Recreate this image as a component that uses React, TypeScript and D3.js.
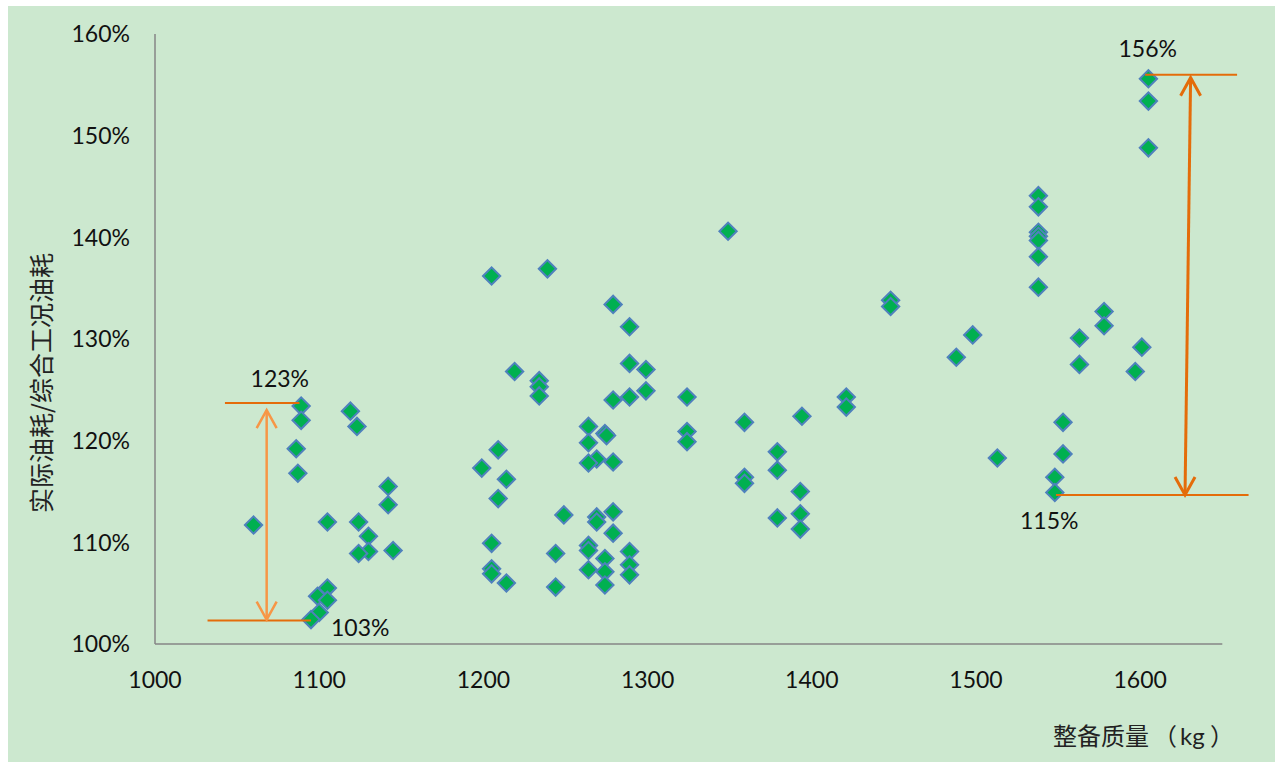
import React from "react";
import * as d3 from "d3";

// 整备质量 (kg)
const weights: number[] = [
  1060, 1089, 1089, 1086, 1087, 1119, 1123, 1142, 1142, 1105, 1124, 1130, 1130, 1124, 1145,
  1105, 1099, 1105, 1100, 1095,
  1205, 1239, 1279, 1289, 1289, 1299, 1299, 1289, 1279, 1324, 1219, 1234, 1234, 1234,
  1264, 1274, 1275, 1264, 1269, 1264, 1279, 1324, 1324, 1209, 1199, 1214, 1209, 1249,
  1269, 1269, 1279, 1279, 1205, 1244, 1264, 1264, 1274, 1289, 1289, 1289, 1264, 1274,
  1274, 1205, 1205, 1214, 1244,
  1349, 1448, 1448, 1498, 1488, 1421, 1421, 1359, 1394, 1379, 1379, 1359, 1359, 1393,
  1379, 1393, 1393, 1513, 1605, 1605, 1605, 1538, 1538, 1538, 1538, 1538, 1538, 1538,
  1578, 1578, 1563, 1563, 1601, 1597, 1553, 1553, 1548, 1548,
];
// 实际油耗/综合工况油耗 (%)
const ratios: number[] = [
  111.7, 123.4, 122.0, 119.2, 116.8, 122.9, 121.4, 115.5, 113.7, 112.0, 112.0, 110.6, 109.1, 108.9, 109.2,
  105.5, 104.7, 104.3, 103.1, 102.4,
  136.2, 136.9, 133.4, 131.2, 127.6, 127.0, 124.9, 124.3, 124.0, 124.3, 126.8, 125.9, 125.3, 124.4,
  121.4, 120.7, 120.5, 119.8, 118.2, 117.8, 117.9, 120.9, 119.9, 119.1, 117.3, 116.2, 114.3, 112.7,
  112.5, 112.0, 113.0, 110.9, 109.9, 108.9, 109.7, 109.2, 108.4, 109.1, 107.8, 106.8, 107.3, 107.1,
  105.8, 107.4, 106.9, 106.0, 105.6,
  140.6, 133.8, 133.2, 130.4, 128.2, 124.3, 123.3, 121.8, 122.4, 118.9, 117.1, 116.4, 115.8, 115.0,
  112.4, 112.8, 111.3, 118.3, 155.6, 153.4, 148.8, 144.1, 143.0, 140.5, 140.1, 139.7, 138.1, 135.1,
  132.7, 131.3, 130.1, 127.5, 129.2, 126.8, 121.8, 118.7, 116.4, 114.9,
];

const xTicks: number[] = [1000, 1100, 1200, 1300, 1400, 1500, 1600];
const yTicks: number[] = [100, 110, 120, 130, 140, 150, 160];
const xDomain: number[] = [1000, 1650];
const yDomain: number[] = [100, 160];

// annotation values: [min, max] ranges
const leftRange: number[] = [102.3, 123.7];
const rightRange: number[] = [114.66, 156.0];
const leftLabels: string[] = ["103%", "123%"];
const rightLabels: string[] = ["115%", "156%"];

const xTitleParts: string[] = ["整备质量", "（", "kg", "）"];
const yTitle = "实际油耗/综合工况油耗";

const W = 1283;
const H = 762;
const latin = "Lato, 'Noto Sans', sans-serif";
const cjk = "'Noto Sans CJK SC', 'Noto Sans', sans-serif";
const fs = 23;

export default function App() {
  const x = d3.scaleLinear().domain(xDomain).range([155, 1222.3]);
  const y = d3.scaleLinear().domain(yDomain).range([644, 34]);
  const diamond = d3.symbol().type(d3.symbolSquare).size(150)() as string;

  const orangeDark = "#E46C0A";
  const orangeLight = "#F79646";

  const arrowHeads = (cx: number, top: number, bx: number, bottom: number) => {
    const hw = 10, hh = 18;
    return `M${cx - hw},${top + hh}L${cx},${top}L${cx + hw},${top + hh}` +
      `M${bx - hw},${bottom - hh}L${bx},${bottom}L${bx + hw},${bottom - hh}`;
  };

  const lx = x(1068);
  const lTop = y(leftRange[1]);
  const lBot = y(leftRange[0]);
  const rxTop = x(1630.7);
  const rxBot = x(1627.3);
  const rTop = y(rightRange[1]);
  const rBot = y(rightRange[0]);

  const noTrim: any = { textSpacingTrim: "space-all" };

  return (
    <svg width={W} height={H} style={{ position: "absolute", left: 0, top: 0 }}>
      <rect x={8} y={6} width={1267} height={756} fill="#CCE8CF" />
      {/* axes */}
      <line x1={x(1000)} x2={x(1000)} y1={y(160)} y2={y(100)} stroke="#868686" strokeWidth={1.5} />
      <line x1={x(1000)} x2={x(1650)} y1={y(100)} y2={y(100)} stroke="#868686" strokeWidth={1.5} />
      {yTicks.map((t) => (
        <text key={"y" + t} x={130} y={y(t)} dy="0.36em" textAnchor="end" fontFamily={latin} fontSize={fs} fill="#111">
          {t}%
        </text>
      ))}
      {xTicks.map((t) => (
        <text key={"x" + t} x={x(t)} y={680} dy="0.36em" textAnchor="middle" fontFamily={latin} fontSize={fs} fill="#111">
          {t}
        </text>
      ))}
      {/* axis titles */}
      <text y={745} fontFamily={cjk} fontSize={24} fill="#222" style={noTrim}>
        <tspan x={1053}>{xTitleParts[0]}</tspan>
        <tspan x={1153}>{xTitleParts[1]}</tspan>
        <tspan x={1180} fontFamily={latin}>{xTitleParts[2]}</tspan>
        <tspan x={1210}>{xTitleParts[3]}</tspan>
      </text>
      <text transform={`translate(51,${383}) rotate(-90)`} textAnchor="middle" fontFamily={cjk} fontSize={25} fill="#222">
        {yTitle}
      </text>
      {/* points */}
      {weights.map((w, i) => (
        <path
          key={i}
          d={diamond}
          transform={`translate(${x(w)},${y(ratios[i])}) rotate(45)`}
          fill="#00B050"
          stroke="#4F81BD"
          strokeWidth={2}
        />
      ))}
      {/* left annotation */}
      <line x1={x(1042.6)} x2={x(1088)} y1={lTop} y2={lTop} stroke={orangeDark} strokeWidth={2} />
      <line x1={x(1032)} x2={x(1095)} y1={lBot} y2={lBot} stroke={orangeDark} strokeWidth={2} />
      <line x1={lx} x2={lx} y1={lTop + 7} y2={lBot - 1} stroke={orangeLight} strokeWidth={2.5} />
      <path d={arrowHeads(lx, lTop + 7, lx, lBot - 1)} fill="none" stroke={orangeLight} strokeWidth={2.5} />
      <text x={x(1076)} y={lTop - 16} textAnchor="middle" fontFamily={latin} fontSize={fs} fill="#111">{leftLabels[1]}</text>
      <text x={331} y={lBot + 15} fontFamily={latin} fontSize={fs} fill="#111">{leftLabels[0]}</text>
      {/* right annotation */}
      <line x1={x(1603)} x2={x(1659)} y1={rTop} y2={rTop} stroke={orangeDark} strokeWidth={2} />
      <line x1={x(1548.7)} x2={x(1666)} y1={rBot} y2={rBot} stroke={orangeDark} strokeWidth={2} />
      <line x1={rxTop} x2={rxBot} y1={rTop + 3} y2={rBot} stroke={orangeDark} strokeWidth={3} />
      <path d={arrowHeads(rxTop, rTop + 3, rxBot, rBot)} fill="none" stroke={orangeDark} strokeWidth={3} />
      <text x={x(1604.6)} y={rTop - 18} textAnchor="middle" fontFamily={latin} fontSize={fs} fill="#111">{rightLabels[1]}</text>
      <text x={1020} y={rBot + 34} fontFamily={latin} fontSize={fs} fill="#111">{rightLabels[0]}</text>
    </svg>
  );
}
